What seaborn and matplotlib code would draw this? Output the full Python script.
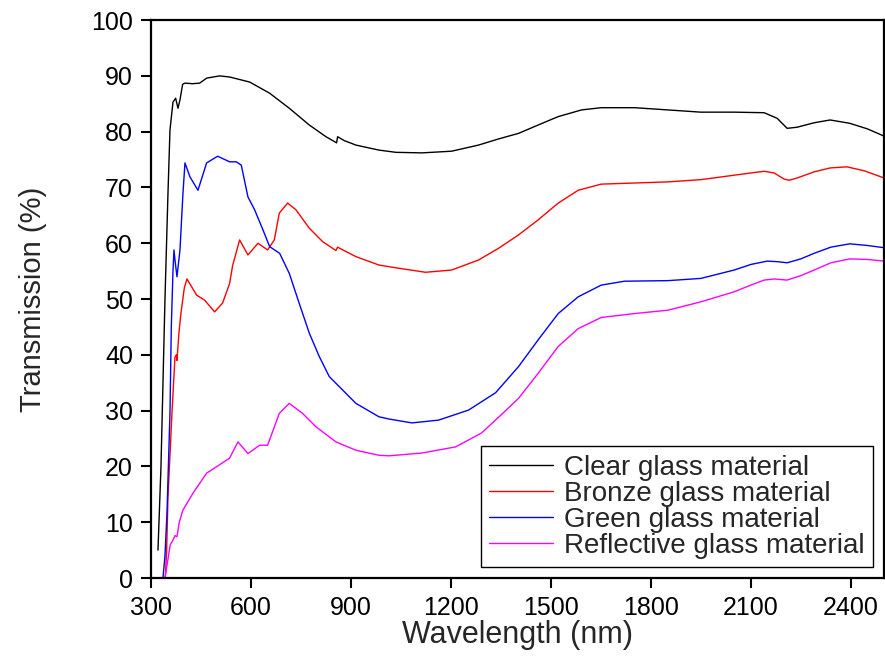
import pandas as pd
import matplotlib.pyplot as plt
import seaborn as sns

# Transmission spectra
clear_x = [321, 330, 336, 342, 351, 357, 366, 374, 381, 387, 395, 402, 425, 446, 467, 506, 536, 556,
           596, 656, 715, 775, 825, 857, 860, 880, 915, 984, 1035, 1113, 1202, 1283, 1343, 1403, 1462,
           1522, 1592, 1651, 1751, 1851, 1950, 2050, 2140, 2179, 2209, 2239, 2290, 2338, 2397, 2450, 2500]
clear_y = [5.0, 20, 35, 50, 69, 80.3, 85.3, 86.0, 84.2, 85.7, 88.5, 88.7, 88.6, 88.7, 89.6, 90.0, 89.8, 89.5,
           88.9, 86.9, 84.2, 81.2, 79.1, 78.0, 79.1, 78.4, 77.6, 76.7, 76.3, 76.2, 76.5, 77.6, 78.7, 79.7, 81.2,
           82.7, 83.9, 84.3, 84.3, 83.9, 83.5, 83.5, 83.4, 82.4, 80.6, 80.8, 81.6, 82.1, 81.5, 80.5, 79.2]

bronze_x = [343, 347, 351, 357, 363, 372, 376, 378, 384, 390, 400, 408, 437, 461, 491, 515, 536, 545,
            566, 591, 621, 650, 670, 685, 710, 735, 775, 815, 855, 860, 915, 984, 1035, 1124, 1202, 1283,
            1343, 1403, 1462, 1522, 1582, 1651, 1751, 1851, 1950, 2050, 2100, 2140, 2170, 2200, 2215, 2239,
            2290, 2338, 2388, 2440, 2500]
bronze_y = [0, 5, 14.5, 22, 29.6, 39.6, 40, 39, 44, 47.5, 52, 53.6, 50.7, 49.8, 47.7, 49.3, 52.8, 56,
            60.6, 57.9, 60.0, 58.8, 60.6, 65.4, 67.2, 66.0, 62.7, 60.3, 58.7, 59.3, 57.6, 56.1, 55.6, 54.8, 55.2, 57.0,
            59.1, 61.5, 64.2, 67.2, 69.5, 70.6, 70.8, 71.0, 71.4, 72.2, 72.6, 72.9, 72.6, 71.5, 71.3, 71.7,
            72.8, 73.5, 73.7, 73.0, 71.7]

green_x = [336, 342, 348, 357, 361, 366, 369, 372, 378, 387, 396, 402, 417, 441, 467, 500, 536, 556,
           571, 591, 611, 636, 656, 686, 715, 745, 775, 805, 835, 865, 915, 984, 1014, 1083, 1163, 1253,
           1334, 1403, 1462, 1522, 1582, 1651, 1721, 1851, 1950, 2050, 2100, 2149, 2180, 2209, 2250, 2290,
           2340, 2397, 2450, 2500]
green_y = [0, 4, 11.6, 29.6, 45, 55, 58.8, 57, 54, 58.8, 69, 74.4, 71.9, 69.5, 74.4, 75.6, 74.6, 74.6,
           74.0, 68.3, 66.0, 62.4, 59.4, 58.2, 54.6, 49.2, 43.9, 39.7, 36.1, 34.3, 31.3, 28.9, 28.5, 27.8, 28.3, 30.1,
           33.2, 37.9, 42.7, 47.4, 50.4, 52.5, 53.2, 53.3, 53.7, 55.2, 56.2, 56.8, 56.7, 56.5, 57.2, 58.2,
           59.3, 59.9, 59.6, 59.2]

reflective_x = [321, 342, 350, 358, 366, 372, 378, 385, 396, 426, 467, 506, 536, 561, 591, 626, 650,
                685, 715, 755, 795, 855, 915, 984, 1014, 1113, 1214, 1292, 1350, 1403, 1462, 1522, 1582,
                1651, 1751, 1851, 1950, 2050, 2100, 2140, 2170, 2209, 2250, 2290, 2340, 2397, 2450, 2500]
reflective_y = [0, 0, 3, 6, 6.8, 7.6, 7.4, 10, 12.2, 15.2, 18.8, 20.3, 21.5, 24.4, 22.3, 23.8, 23.8,
                29.5, 31.3, 29.5, 27.1, 24.4, 22.9, 22.0, 21.9, 22.4, 23.5, 26.0, 29.2, 32.2, 36.7, 41.5, 44.7,
                46.7, 47.4, 48.0, 49.5, 51.3, 52.5, 53.4, 53.6, 53.4, 54.2, 55.2, 56.5, 57.2, 57.1, 56.8]

labels = ['Clear glass material', 'Bronze glass material', 'Green glass material', 'Reflective glass material']
colors = ['black', 'red', 'blue', 'magenta']

frames = []
for name, xs, ys in zip(labels,
                        [clear_x, bronze_x, green_x, reflective_x],
                        [clear_y, bronze_y, green_y, reflective_y]):
    frames.append(pd.DataFrame({'wavelength': xs, 'transmission': ys, 'sample': name}))
df = pd.concat(frames, ignore_index=True)

sns.set_style('ticks')
plt.rcParams['font.family'] = ['Liberation Sans', 'DejaVu Sans']

fig = plt.figure(figsize=(8.85, 6.7), dpi=100)
ax = fig.add_axes([0.1706, 0.1373, 0.8284, 0.8327])

sns.lineplot(data=df, x='wavelength', y='transmission', hue='sample', hue_order=labels,
             palette=dict(zip(labels, colors)), sort=False, estimator=None, linewidth=1.0, ax=ax)

ax.set_xlim(300, 2500)
ax.set_ylim(0, 100)
ax.set_xticks(range(300, 2401, 300))
ax.set_yticks(range(0, 101, 10))
ax.tick_params(axis='both', labelsize=18, direction='out', length=7, width=1.5, colors='black', pad=6)
for s in ax.spines.values():
    s.set_linewidth(1.6)
    s.set_color('black')

ax.set_xlabel('Wavelength (nm)', fontsize=22, labelpad=0)
ax.set_ylabel('Transmission (%)', fontsize=21, labelpad=32)

leg = ax.legend(loc='lower right', fontsize=20, frameon=True, fancybox=False, edgecolor='black',
                handlelength=2.3, handletextpad=0.4, labelspacing=0.0, borderpad=0.3,
                borderaxespad=0.4)
leg.get_frame().set_linewidth(1.0)
leg.get_frame().set_alpha(1)

fig.savefig('out.png', dpi=100)
plt.close(fig)
